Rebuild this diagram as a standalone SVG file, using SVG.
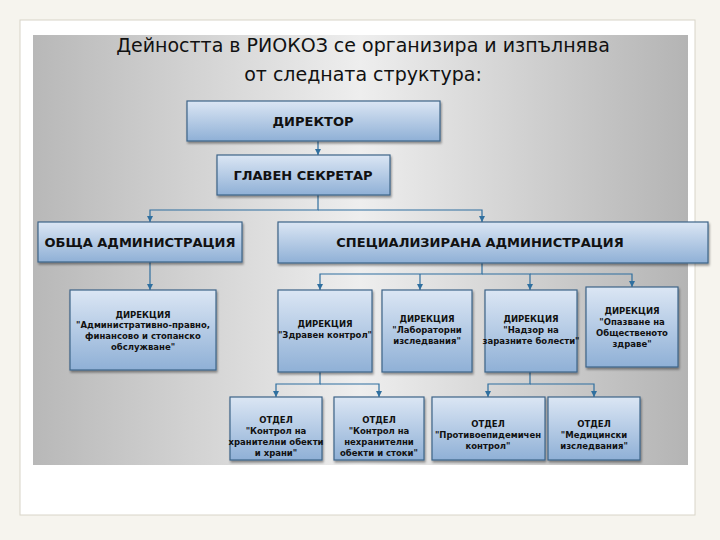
<svg xmlns="http://www.w3.org/2000/svg" width="720" height="540" viewBox="0 0 720 540">
<defs>
<linearGradient id="bg" x1="0" y1="0" x2="1" y2="0">
<stop offset="0" stop-color="#b8b8b8"/><stop offset="0.5" stop-color="#eeeeee"/><stop offset="1" stop-color="#b4b4b4"/>
</linearGradient>
<linearGradient id="box" x1="0" y1="0" x2="0" y2="1">
<stop offset="0" stop-color="#dbe6f4"/><stop offset="1" stop-color="#8fb0d6"/>
</linearGradient>
<marker id="ar" viewBox="0 0 10 10" refX="10" refY="5" markerWidth="5" markerHeight="5" orient="auto">
<path d="M0,0 L10,5 L0,10 z" fill="#2f6f9f"/>
</marker>
<filter id="sh" x="-10%" y="-10%" width="130%" height="140%"><feDropShadow dx="1" dy="2" stdDeviation="1.2" flood-opacity="0.4"/></filter>
</defs>
<style>
.b{fill:url(#box);stroke:#3d6488;stroke-width:1.2;filter:url(#sh)}
.t{font-family:"DejaVu Sans",sans-serif;font-weight:bold;fill:#111;text-anchor:middle}
.l{font-size:13px}.s{font-size:8.5px}
.c{fill:none;stroke:#2f6f9f;stroke-width:1.2}
</style>
<rect width="720" height="540" fill="#f6f4ee"/>
<rect x="20" y="20" width="675" height="495" fill="#fff" stroke="#d8d4c8"/>
<rect x="33" y="35" width="655" height="430" fill="url(#bg)"/>
<text x="363" y="52" font-family="DejaVu Sans,sans-serif" font-size="19" text-anchor="middle" fill="#111">Дейността в РИОКОЗ се организира и изпълнява</text>
<text x="363" y="81" font-family="DejaVu Sans,sans-serif" font-size="19" text-anchor="middle" fill="#111">от следната структура:</text>
<g id="connectors">
<path class="c" d="M318,141 V155" marker-end="url(#ar)"/>
<path class="c" d="M318,195 V210 H150 V222" marker-end="url(#ar)"/>
<path class="c" d="M318,210 H482 V222" marker-end="url(#ar)"/>
<path class="c" d="M150,262 V290" marker-end="url(#ar)"/>
<path class="c" d="M482,263 V274 H320 V290" marker-end="url(#ar)"/>
<path class="c" d="M420,274 V290" marker-end="url(#ar)"/>
<path class="c" d="M482,274 H530 V290" marker-end="url(#ar)"/>
<path class="c" d="M530,274 H632 V287" marker-end="url(#ar)"/>
<path class="c" d="M320,372 V384 H276 V397" marker-end="url(#ar)"/>
<path class="c" d="M320,384 H379 V397" marker-end="url(#ar)"/>
<path class="c" d="M530,372 V384 H488 V397" marker-end="url(#ar)"/>
<path class="c" d="M530,384 H594 V397" marker-end="url(#ar)"/>
</g>
<g id="director"><rect class="b" x="187" y="101" width="253" height="40"/><text class="t l" x="313" y="126">ДИРЕКТОР</text></g>
<g id="secretary"><rect class="b" x="217" y="155" width="173" height="40"/><text class="t l" x="303" y="180">ГЛАВЕН СЕКРЕТАР</text></g>
<g id="general"><rect class="b" x="38" y="222" width="204" height="40"/><text class="t l" x="140" y="247">ОБЩА АДМИНИСТРАЦИЯ</text></g>
<g id="special"><rect class="b" x="278" y="222" width="430" height="41"/><text class="t l" x="480" y="247">СПЕЦИАЛИЗИРАНА АДМИНИСТРАЦИЯ</text></g>
<g id="d1"><rect class="b" x="70" y="290" width="146" height="80"/><text class="t s" x="143" y="318">ДИРЕКЦИЯ</text><text class="t s" x="143" y="328">"Административно-правно,</text><text class="t s" x="143" y="339">финансово и стопанско</text><text class="t s" x="143" y="350">обслужване"</text></g>
<g id="d2"><rect class="b" x="278" y="290" width="94" height="82"/><text class="t s" x="325" y="327">ДИРЕКЦИЯ</text><text class="t s" x="325" y="338">"Здравен контрол"</text></g>
<g id="d3"><rect class="b" x="382" y="290" width="90" height="82"/><text class="t s" x="427" y="322">ДИРЕКЦИЯ</text><text class="t s" x="427" y="333">"Лабораторни</text><text class="t s" x="427" y="344">изследвания"</text></g>
<g id="d4"><rect class="b" x="485" y="290" width="92" height="82"/><text class="t s" x="531" y="322">ДИРЕКЦИЯ</text><text class="t s" x="531" y="333">"Надзор на</text><text class="t s" x="531" y="344">заразните болести"</text></g>
<g id="d5"><rect class="b" x="586" y="287" width="92" height="80"/><text class="t s" x="632" y="314">ДИРЕКЦИЯ</text><text class="t s" x="632" y="325">"Опазване на</text><text class="t s" x="632" y="336">Общественото</text><text class="t s" x="632" y="347">здраве"</text></g>
<g id="o1"><rect class="b" x="230" y="397" width="92" height="63"/><text class="t s" x="276" y="423">ОТДЕЛ</text><text class="t s" x="276" y="434">"Контрол на</text><text class="t s" x="276" y="445">хранителни обекти</text><text class="t s" x="276" y="456">и храни"</text></g>
<g id="o2"><rect class="b" x="334" y="397" width="90" height="63"/><text class="t s" x="379" y="423">ОТДЕЛ</text><text class="t s" x="379" y="434">"Контрол на</text><text class="t s" x="379" y="445">нехранителни</text><text class="t s" x="379" y="456">обекти и стоки"</text></g>
<g id="o3"><rect class="b" x="432" y="397" width="113" height="63"/><text class="t s" x="488" y="427">ОТДЕЛ</text><text class="t s" x="488" y="438">"Противоепидемичен</text><text class="t s" x="488" y="449">контрол"</text></g>
<g id="o4"><rect class="b" x="548" y="397" width="92" height="63"/><text class="t s" x="594" y="427">ОТДЕЛ</text><text class="t s" x="594" y="438">"Медицински</text><text class="t s" x="594" y="449">изследвания"</text></g>
</svg>
